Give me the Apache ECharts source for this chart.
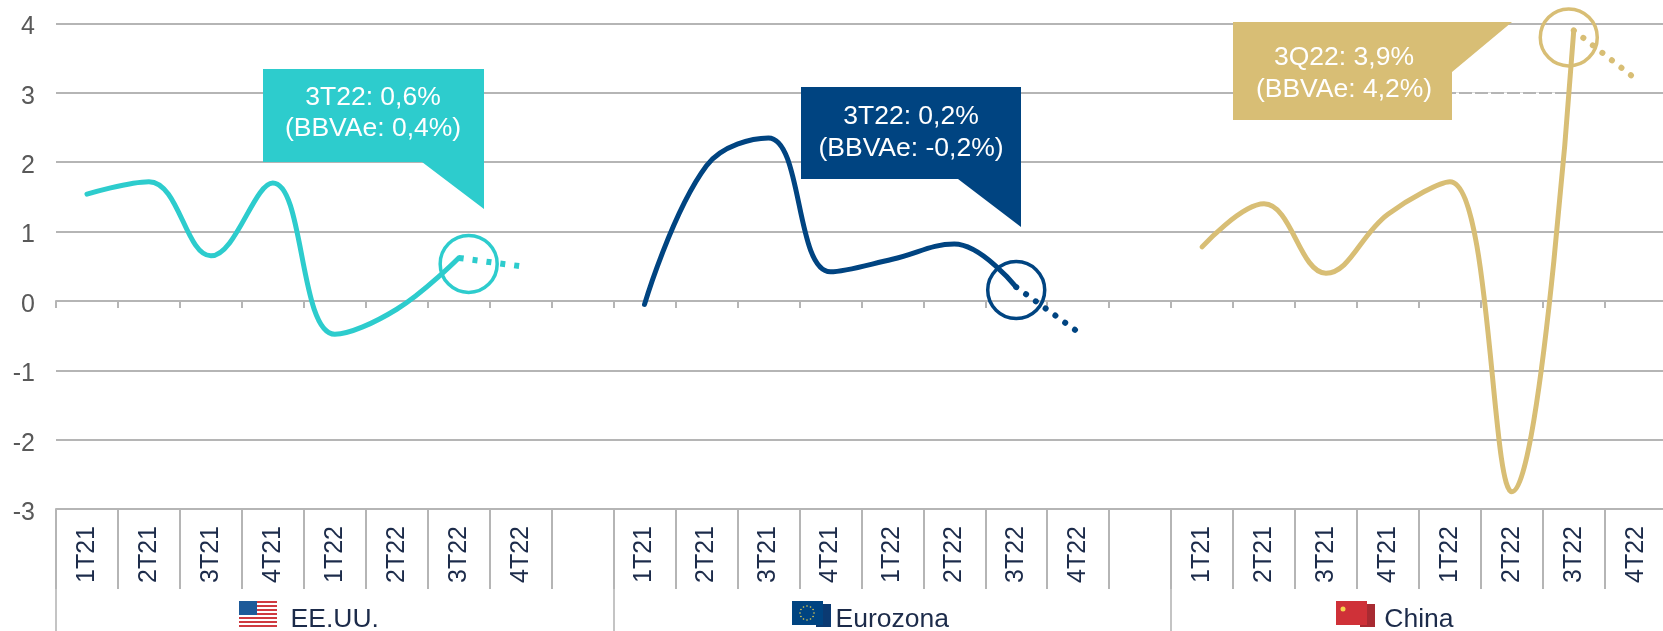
<!DOCTYPE html>
<html>
<head>
<meta charset="utf-8">
<title>PIB trimestral</title>
<script src="https://cdn.jsdelivr.net/npm/echarts@6/dist/echarts.min.js"></script>
<style>
  html, body { margin: 0; padding: 0; background: #fff; overflow: hidden; }
  #chart { width: 1663px; height: 631px; }
</style>
</head>
<body>
<div id="chart"></div>
<script>
const quarters = ['1T21', '2T21', '3T21', '4T21', '1T22', '2T22', '3T22', '4T22'];
const groupNames = ['EE.UU.', 'Eurozona', 'China'];
const usaValues = [1.54, 1.72, 0.65, 1.7, -0.48, -0.12, 0.62, 0.5];
const euroValues = [-0.05, 1.95, 2.35, 0.42, 0.6, 0.82, 0.2, -0.45];
const chinaValues = [0.78, 1.4, 0.4, 1.25, 1.72, -2.75, 3.9, 3.2];
const yTicks = [-3, -2, -1, 0, 1, 2, 3, 4];

const TEAL = '#2dcccd';
const NAVY = '#004481';
const GOLD = '#d8be75';
const GRID_GREY = '#b5b5b5';
const TEXT_DARK = '#1c2b4a';
const FONT = '"Liberation Sans", Arial, sans-serif';

// 8 quarters + 1 empty slot per block, last block has no empty slot
const categories = [...quarters, '', ...quarters, '', ...quarters];
const blockStart = [0, 9, 18];

function blank() {
  return categories.map(() => null);
}

// solid part runs up to 3T22, dotted part is the 3T22 -> 4T22 forecast
function solidPart(values, block) {
  const out = blank();
  values.slice(0, 7).forEach((v, i) => { out[blockStart[block] + i] = v; });
  return out;
}
function dottedPart(values, block) {
  const out = blank();
  out[blockStart[block] + 6] = values[6];
  out[blockStart[block] + 7] = values[7];
  return out;
}

function lineSeries(values, block, color, circleOffset) {
  const idx = blockStart[block] + 6;
  return [
    {
      type: 'line',
      data: solidPart(values, block),
      smooth: 0.4,
      showSymbol: false,
      xAxisIndex: 0,
      lineStyle: { color, width: 5, cap: 'round' },
      markPoint: {
        silent: true,
        symbol: 'circle',
        symbolSize: 57,
        symbolOffset: circleOffset,
        label: { show: false },
        itemStyle: { color: 'rgba(0,0,0,0)', borderColor: color, borderWidth: 3.5 },
        data: [{ coord: [idx, values[6]] }]
      }
    },
    {
      type: 'line',
      data: dottedPart(values, block),
      showSymbol: false,
      xAxisIndex: 0,
      lineStyle: {
        color,
        width: 6,
        type: block === 0 ? [5, 9] : [0.1, 12],
        cap: block === 0 ? 'butt' : 'round'
      }
    }
  ];
}

function callout(points, color, cx, lines) {
  const textFont = '26.5px ' + FONT;
  return [
    { type: 'polygon', shape: { points }, style: { fill: color }, z: 20 },
    {
      type: 'text', x: cx, y: lines.y1, z: 21,
      style: { text: lines.a, fill: '#fff', font: textFont, textAlign: 'center', textVerticalAlign: 'middle' }
    },
    {
      type: 'text', x: cx, y: lines.y2, z: 21,
      style: { text: lines.b, fill: '#fff', font: textFont, textAlign: 'center', textVerticalAlign: 'middle' }
    }
  ];
}

function rect(x, y, width, height, fill) {
  return { type: 'rect', shape: { x, y, width, height }, style: { fill }, z: 20 };
}

function usaFlag(x, y) {
  const parts = [rect(x, y, 38, 26, '#fff')];
  for (let i = 0; i < 7; i++) parts.push(rect(x, y + i * 4, 38, 2, '#cf3a40'));
  parts.push(rect(x, y, 18, 14, '#1d5a99'));
  return parts;
}
function euroFlag(x, y) {
  const parts = [rect(x + 24, y + 3, 15, 23, '#0b3a72'), rect(x, y, 31, 24, NAVY)];
  for (let i = 0; i < 12; i++) {
    const a = i / 12 * Math.PI * 2;
    parts.push({ type: 'circle', shape: { cx: x + 15 + Math.cos(a) * 7, cy: y + 12 + Math.sin(a) * 7, r: 0.8 }, style: { fill: '#e8cf4e' }, z: 21 });
  }
  return parts;
}
function chinaFlag(x, y) {
  return [
    rect(x + 24, y + 3, 15, 23, '#a82b32'),
    rect(x, y, 31, 24, '#cf3138'),
    { type: 'circle', shape: { cx: x + 7, cy: y + 8, r: 2.5 }, style: { fill: '#f5d44d' }, z: 21 }
  ];
}

const chart = echarts.init(document.getElementById('chart'), null, { renderer: 'canvas' });

const option = {
  animation: false,
  backgroundColor: '#fff',
  // outerBoundsMode none: otherwise v6 squeezes the grid to keep the labels on the canvas
  grid: { left: 56, width: 1610.7, top: 23.5, height: 485.5, outerBoundsMode: 'none' },
  xAxis: [
    {
      // ticks along the zero line
      type: 'category',
      data: categories,
      position: 'bottom',
      axisLine: { onZero: true, lineStyle: { color: GRID_GREY, width: 2 } },
      axisTick: { show: true, interval: 0, length: 7, lineStyle: { color: GRID_GREY, width: 2 } },
      axisLabel: { show: false },
      splitLine: { show: false }
    },
    {
      // quarter labels under the plot
      type: 'category',
      data: categories,
      position: 'bottom',
      axisLine: { onZero: false, lineStyle: { color: GRID_GREY, width: 2 } },
      axisTick: { show: true, interval: 0, length: 80, lineStyle: { color: GRID_GREY, width: 2 } },
      axisLabel: {
        interval: 0,
        rotate: 90,
        margin: 17,
        color: TEXT_DARK,
        fontFamily: FONT,
        fontSize: 25
      },
      splitLine: { show: false }
    },
    {
      // country blocks
      type: 'category',
      data: categories.map((c, i) => {
        if (i === 4) return groupNames[0];
        if (i === 13) return groupNames[1];
        if (i === 21) return groupNames[2];
        return '';
      }),
      position: 'bottom',
      offset: 80,
      axisLine: { show: false, onZero: false },
      axisTick: {
        show: true,
        length: 43,
        interval: (i) => blockStart.includes(i),
        lineStyle: { color: '#c4c4c4', width: 2 }
      },
      axisLabel: {
        interval: 0,
        margin: 17,
        color: TEXT_DARK,
        fontFamily: FONT,
        fontSize: 26.5,
        formatter: (v) => (v === groupNames[2] ? '{china|' + v + '}' : v),
        rich: { china: { padding: [0, 0, 0, 62], fontSize: 26.5, fontFamily: FONT, color: TEXT_DARK } }
      },
      splitLine: { show: false }
    }
  ],
  yAxis: {
    type: 'value',
    min: yTicks[0],
    max: yTicks[yTicks.length - 1],
    interval: 1,
    axisLine: { show: false },
    axisTick: { show: false },
    axisLabel: { color: '#595959', fontFamily: FONT, fontSize: 25, margin: 21, verticalAlign: 'top', lineHeight: 8 },
    splitLine: { lineStyle: { color: GRID_GREY, width: 2 } }
  },
  series: [
    ...lineSeries(usaValues, 0, TEAL, [10, 6]),
    ...lineSeries(euroValues, 1, NAVY, [0, 3]),
    ...lineSeries(chinaValues, 2, GOLD, [-5, 7])
  ],
  graphic: [
    // white specks left over the gridline behind the gold callout
    { type: 'line', shape: { x1: 1456, y1: 93.5, x2: 1558, y2: 93.5 }, style: { stroke: '#fff', lineWidth: 2, lineDash: [3, 13] }, z: 3 },
    ...callout([[263, 69], [484, 69], [484, 209], [422, 162], [263, 162]], TEAL, 373,
      { a: '3T22: 0,6%', b: '(BBVAe: 0,4%)', y1: 97.5, y2: 129 }),
    ...callout([[801, 87], [1021, 87], [1021, 227], [958, 179], [801, 179]], NAVY, 911,
      { a: '3T22: 0,2%', b: '(BBVAe: -0,2%)', y1: 116.5, y2: 149 }),
    ...callout([[1233, 22], [1512, 22], [1452, 72], [1452, 120], [1233, 120]], GOLD, 1344,
      { a: '3Q22: 3,9%', b: '(BBVAe: 4,2%)', y1: 58, y2: 90 }),
    ...usaFlag(239, 601),
    ...euroFlag(792, 601),
    ...chinaFlag(1336, 601)
  ]
};

chart.setOption(option);
window.addEventListener('resize', () => chart.resize());
</script>
</body>
</html>
